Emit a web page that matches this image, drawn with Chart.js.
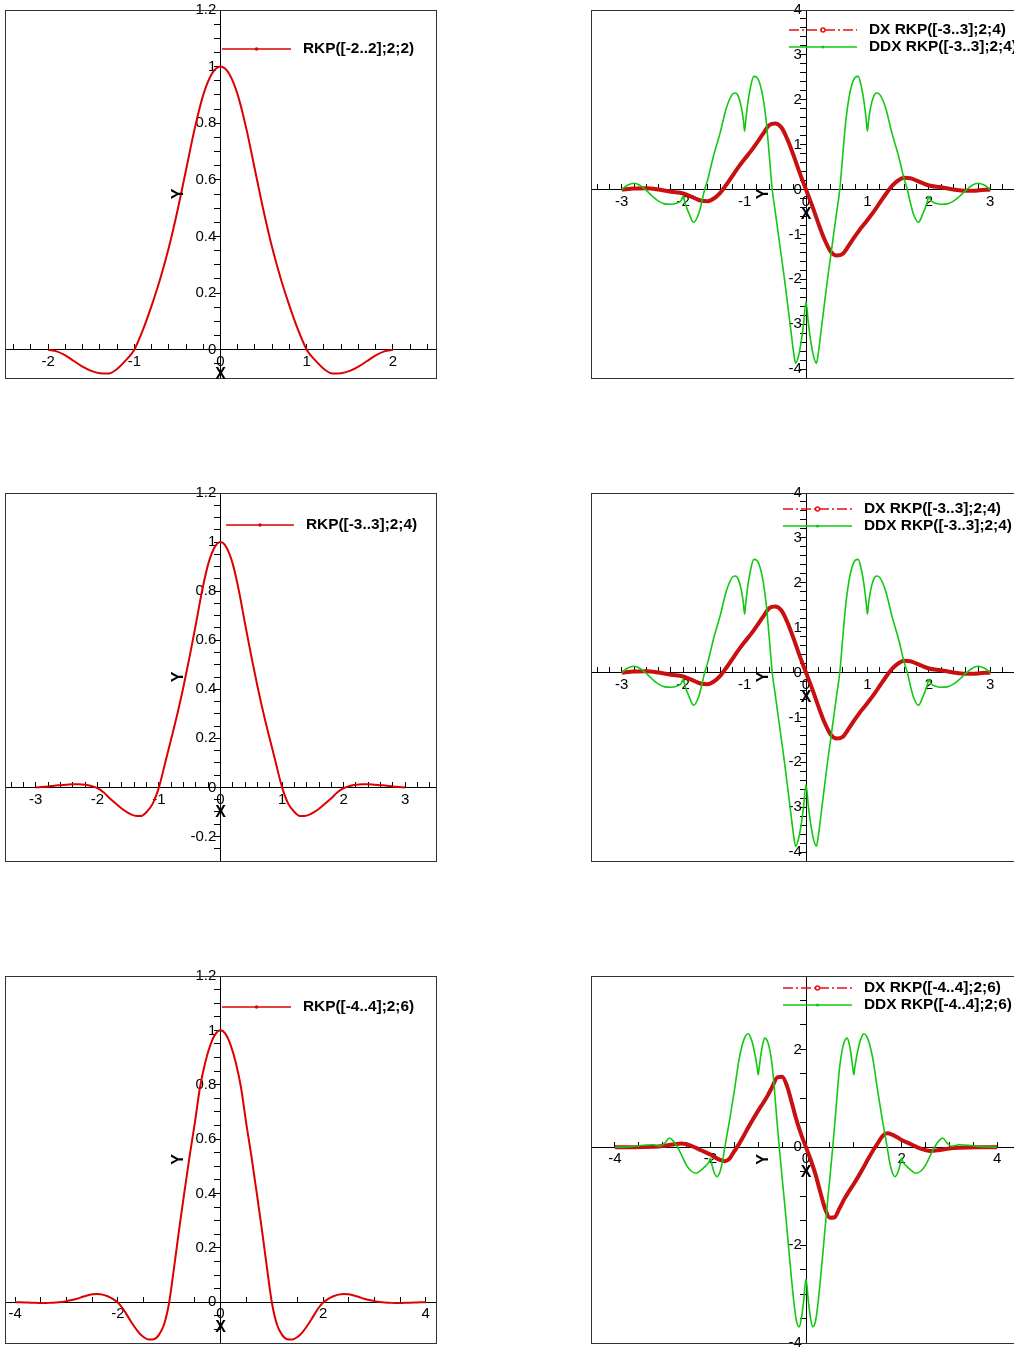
<!DOCTYPE html>
<html>
<head>
<meta charset="utf-8">
<title>RKP kernels</title>
<script src="https://cdn.jsdelivr.net/npm/chart.js@4.4.1/dist/chart.umd.min.js"></script>
<style>
  html, body { margin: 0; padding: 0; background: #fff; width: 1014px; height: 1349px; overflow: hidden; position: relative; }
  canvas { position: absolute; }
</style>
</head>
<body>
<canvas id="c1"></canvas>
<canvas id="c2"></canvas>
<canvas id="c3"></canvas>
<canvas id="c4"></canvas>
<canvas id="c5"></canvas>
<canvas id="c6"></canvas>
<script>
// ---- kernel RKP([-2..2];2;2)
const RKP2_X = [-2,-1.9,-1.8,-1.7,-1.6,-1.5,-1.4,-1.3,-1.2,-1.1,-1,-0.9,-0.8,-0.7,-0.6,-0.5,-0.4,-0.3,-0.2,-0.1,
  0,0.1,0.2,0.3,0.4,0.5,0.6,0.7,0.8,0.9,1,1.1,1.2,1.3,1.4,1.5,1.6,1.7,1.8,1.9,2];
const RKP2_Y = [0,-0.006,-0.02,-0.04,-0.06,-0.075,-0.083,-0.084,-0.068,-0.038,0,0.07,0.155,0.25,0.36,0.49,0.635,0.78,0.9,0.975,
  1,0.975,0.9,0.78,0.635,0.49,0.36,0.25,0.155,0.07,0,-0.038,-0.068,-0.084,-0.083,-0.075,-0.06,-0.04,-0.02,-0.006,0];

// ---- kernel RKP([-3..3];2;4)
const RKP4_X = [-3,-2.9,-2.8,-2.7,-2.6,-2.5,-2.4,-2.3,-2.2,-2.1,-2,-1.9,-1.8,-1.7,-1.6,-1.5,-1.4,-1.3,-1.2,-1.1,
  -1,-0.9,-0.8,-0.7,-0.6,-0.5,-0.4,-0.3,-0.2,-0.1,0,0.1,0.2,0.3,0.4,0.5,0.6,0.7,0.8,0.9,
  1,1.1,1.2,1.3,1.4,1.5,1.6,1.7,1.8,1.9,2,2.1,2.2,2.3,2.4,2.5,2.6,2.7,2.8,2.9,3];
const RKP4_Y = [0,0.002,0.004,0.007,0.009,0.011,0.013,0.013,0.011,0.006,-0.003,-0.02,-0.044,-0.066,-0.087,-0.104,-0.115,-0.117,-0.1,-0.066,
  0,0.098,0.198,0.3,0.412,0.535,0.665,0.8,0.91,0.977,1,0.977,0.91,0.8,0.665,0.535,0.412,0.3,0.198,0.098,
  0,-0.066,-0.1,-0.117,-0.115,-0.104,-0.087,-0.066,-0.044,-0.02,-0.003,0.006,0.011,0.013,0.013,0.011,0.009,0.007,0.004,0.002,0];

// ---- kernel RKP([-4..4];2;6)
const RKP6_X = [-4,-3.9,-3.8,-3.7,-3.6,-3.5,-3.4,-3.3,-3.2,-3.1,-3,-2.9,-2.8,-2.7,-2.6,-2.5,-2.4,-2.3,-2.2,-2.1,
  -2,-1.9,-1.8,-1.7,-1.6,-1.5,-1.4,-1.3,-1.2,-1.1,-1,-0.9,-0.8,-0.7,-0.6,-0.5,-0.4,-0.3,-0.2,-0.1,
  0,0.1,0.2,0.3,0.4,0.5,0.6,0.7,0.8,0.9,1,1.1,1.2,1.3,1.4,1.5,1.6,1.7,1.8,1.9,
  2,2.1,2.2,2.3,2.4,2.5,2.6,2.7,2.8,2.9,3,3.1,3.2,3.3,3.4,3.5,3.6,3.7,3.8,3.9,4];
const RKP6_Y = [0,0,-0.001,-0.002,-0.002,-0.003,-0.003,-0.002,-0.001,0.001,0.004,0.008,0.013,0.019,0.025,0.029,0.03,0.028,0.022,0.012,
  -0.001,-0.024,-0.054,-0.084,-0.11,-0.128,-0.137,-0.136,-0.12,-0.082,0,0.135,0.276,0.41,0.54,0.66,0.79,0.88,0.945,0.986,
  1,0.986,0.945,0.88,0.79,0.66,0.54,0.41,0.276,0.135,0,-0.082,-0.12,-0.136,-0.137,-0.128,-0.11,-0.084,-0.054,-0.024,
  -0.001,0.012,0.022,0.028,0.03,0.029,0.025,0.019,0.013,0.008,0.004,0.001,-0.001,-0.002,-0.003,-0.003,-0.002,-0.002,-0.001,0,0];

// ---- first and second derivative of RKP([-3..3];2;4)
const DX3_X = [-3,-2.8,-2.6,-2.4,-2.2,-2,-1.9,-1.8,-1.7,-1.6,-1.5,-1.4,-1.3,-1.2,-1.1,-1,-0.9,-0.8,-0.7,-0.6,-0.5,-0.4,-0.3,-0.2,-0.1,
  0,0.1,0.2,0.3,0.4,0.5,0.6,0.7,0.8,0.9,1,1.1,1.2,1.3,1.4,1.5,1.6,1.7,1.8,1.9,2,2.2,2.4,2.6,2.8,3];
const DX3_Y = [0,0.02,0.03,0,-0.05,-0.09,-0.14,-0.2,-0.25,-0.26,-0.2,-0.08,0.1,0.3,0.5,0.68,0.85,1.04,1.24,1.43,1.47,1.38,1.11,0.75,0.36,
  0,-0.36,-0.75,-1.11,-1.38,-1.47,-1.43,-1.24,-1.04,-0.85,-0.68,-0.5,-0.3,-0.1,0.08,0.2,0.26,0.25,0.2,0.14,0.09,0.05,0,-0.03,-0.02,0];
const DDX3_X = [-3,-2.9,-2.8,-2.7,-2.6,-2.5,-2.4,-2.3,-2.2,-2.1,-2.03,-2,-1.97,-1.9,-1.83,-1.75,-1.7,-1.65,-1.6,-1.5,
  -1.4,-1.3,-1.2,-1.15,-1.1,-1.05,-1.02,-1,-0.98,-0.95,-0.9,-0.85,-0.8,-0.75,-0.7,-0.65,-0.6,-0.55,-0.5,-0.45,
  -0.4,-0.35,-0.3,-0.25,-0.2,-0.17,-0.12,-0.08,-0.04,0,
  0.04,0.08,0.12,0.17,0.2,0.25,0.3,0.35,0.4,0.45,0.5,0.55,0.6,0.65,0.7,0.75,0.8,0.85,0.9,0.95,
  0.98,1,1.02,1.05,1.1,1.15,1.2,1.3,1.4,1.5,1.6,1.65,1.7,1.75,1.83,1.9,1.97,2,2.03,2.1,
  2.2,2.3,2.4,2.5,2.6,2.7,2.8,2.9,3];
const DDX3_Y = [0,0.1,0.14,0.09,-0.02,-0.15,-0.26,-0.32,-0.33,-0.3,-0.24,-0.15,-0.3,-0.55,-0.73,-0.55,-0.3,0,0.22,0.78,
  1.25,1.8,2.12,2.15,2.07,1.82,1.55,1.3,1.55,1.9,2.3,2.52,2.5,2.35,2.05,1.55,0.8,0,-0.5,-1,
  -1.5,-2,-2.55,-3.1,-3.65,-3.87,-3.7,-3.4,-3,-2.5,
  -3,-3.4,-3.7,-3.87,-3.65,-3.1,-2.55,-2,-1.5,-1,-0.5,0,0.8,1.55,2.05,2.35,2.5,2.52,2.3,1.9,
  1.55,1.3,1.55,1.82,2.07,2.15,2.12,1.8,1.25,0.78,0.22,0,-0.3,-0.55,-0.73,-0.55,-0.3,-0.15,-0.24,-0.3,
  -0.33,-0.32,-0.26,-0.15,-0.02,0.09,0.14,0.1,0];

// ---- first and second derivative of RKP([-4..4];2;6)
const DX6_X = [-4,-3.6,-3.2,-3,-2.8,-2.6,-2.4,-2.2,-2,-1.9,-1.8,-1.7,-1.6,-1.5,-1.4,-1.3,-1.2,-1.1,-1,-0.9,-0.8,-0.7,-0.6,-0.5,-0.4,-0.3,-0.2,-0.1,
  0,0.1,0.2,0.3,0.4,0.5,0.6,0.7,0.8,0.9,1,1.1,1.2,1.3,1.4,1.5,1.6,1.7,1.8,1.9,2,2.2,2.4,2.6,2.8,3,3.2,3.6,4];
const DX6_Y = [0,0,0.01,0.025,0.055,0.075,0.03,-0.06,-0.15,-0.21,-0.26,-0.285,-0.23,-0.08,0.07,0.24,0.42,0.59,0.75,0.9,1.06,1.25,1.43,1.44,1.26,0.92,0.56,0.26,
  0,-0.26,-0.56,-0.92,-1.26,-1.44,-1.43,-1.25,-1.06,-0.9,-0.75,-0.59,-0.42,-0.24,-0.07,0.08,0.23,0.285,0.26,0.21,0.15,0.06,-0.03,-0.075,-0.055,-0.025,-0.01,0,0];
const DDX6_X = [-4,-3.7,-3.4,-3.2,-3.05,-2.95,-2.86,-2.8,-2.7,-2.6,-2.5,-2.4,-2.3,-2.2,-2.1,-2.03,-2,-1.97,-1.92,-1.86,
  -1.8,-1.75,-1.7,-1.6,-1.5,-1.4,-1.3,-1.21,-1.15,-1.1,-1.05,-1.02,-1,-0.98,-0.95,-0.9,-0.86,-0.8,-0.75,-0.7,
  -0.65,-0.6,-0.55,-0.5,-0.45,-0.4,-0.35,-0.3,-0.25,-0.2,-0.14,-0.1,-0.05,0,
  0.05,0.1,0.14,0.2,0.25,0.3,0.35,0.4,0.45,0.5,0.55,0.6,0.65,0.7,0.75,0.8,0.86,0.9,0.95,0.98,
  1,1.02,1.05,1.1,1.15,1.21,1.3,1.4,1.5,1.6,1.7,1.75,1.8,1.86,1.92,1.97,2,2.03,2.1,2.2,
  2.3,2.4,2.5,2.6,2.7,2.8,2.86,2.95,3.05,3.2,3.4,3.7,4];
const DDX6_Y = [0,0.01,0.04,0.05,0.02,0.09,0.19,0.15,0.02,-0.17,-0.37,-0.49,-0.53,-0.47,-0.38,-0.3,-0.22,-0.35,-0.52,-0.6,
  -0.5,-0.3,0,0.55,1.15,1.8,2.2,2.32,2.22,2.05,1.8,1.62,1.48,1.62,1.85,2.13,2.23,2.15,1.95,1.6,
  1.05,0.45,-0.1,-0.62,-1.12,-1.65,-2.2,-2.72,-3.2,-3.55,-3.67,-3.52,-3.15,-2.7,
  -3.15,-3.52,-3.67,-3.55,-3.2,-2.72,-2.2,-1.65,-1.12,-0.62,-0.1,0.45,1.05,1.6,1.95,2.15,2.23,2.13,1.85,1.62,
  1.48,1.62,1.8,2.05,2.22,2.32,2.2,1.8,1.15,0.55,0,-0.3,-0.5,-0.6,-0.52,-0.35,-0.22,-0.3,-0.38,-0.47,
  -0.53,-0.49,-0.37,-0.17,0.02,0.15,0.19,0.09,0.02,0.05,0.04,0.01,0];

Chart.defaults.font.family = '"Liberation Sans", Arial, Helvetica, sans-serif';
Chart.defaults.font.size = 15;
Chart.defaults.color = '#000';

const PAD = 20;
const RED = '#dd0000';
const DARK_RED = '#c81010';
const GREEN = '#12c812';
const LABEL_FONT = 'bold 15.4px "Liberation Sans", Arial, sans-serif';
const TITLE_FONT = 'bold 16px "Liberation Sans", Arial, sans-serif';

function points(xs, ys) {
  return xs.map((x, i) => ({ x, y: ys[i] }));
}

function isMultiple(v, step) {
  const q = v / step;
  return Math.abs(q - Math.round(q)) < 1e-6;
}

function stepTicks(min, max, step) {
  const out = [];
  for (let k = Math.ceil(min / step - 1e-9); k * step <= max + 1e-9; k++) {
    out.push({ value: Math.round(k * step * 1e6) / 1e6 });
  }
  return out;
}

function axis(horiz, min, max, step, labelStep) {
  return {
    type: 'linear',
    min, max,
    position: horiz ? { y: 0 } : { x: 0 },
    afterBuildTicks: (s) => { s.ticks = stepTicks(min, max, step); },
    afterFit: (s) => { if (horiz) s.height = 0; else s.width = 0; },
    grid: { drawOnChartArea: false, drawTicks: true, tickLength: horiz ? -6 : 6, tickColor: '#000', tickWidth: 1 },
    border: { display: true, color: '#000', width: 1 },
    ticks: {
      autoSkip: false, maxRotation: 0, minRotation: 0,
      padding: horiz ? 9 : 0,
      color: '#000',
      font: { size: 15 },
      // y labels sit right-aligned on the axis line, keep a small gap
      callback: (v) => isMultiple(v, labelStep) ? String(Math.round(v * 1000) / 1000) + (horiz ? '' : '\u00a0') : ''
    }
  };
}

// frame around the plot area, the axis titles and the in-plot legend
const panelDecor = {
  id: 'panelDecor',
  afterDraw(chart, args, opts) {
    const { ctx, chartArea: a, scales } = chart;
    ctx.save();
    ctx.strokeStyle = '#333';
    ctx.lineWidth = 1;
    ctx.strokeRect(Math.round(a.left) + 0.5, Math.round(a.top) + 0.5, Math.round(a.width), Math.round(a.height));

    ctx.fillStyle = '#000';
    ctx.font = TITLE_FONT;
    ctx.textAlign = 'center';
    ctx.textBaseline = 'middle';
    ctx.fillText('X', (a.left + a.right) / 2, scales.y.getPixelForValue(0) + 25);
    ctx.save();
    ctx.translate(scales.x.getPixelForValue(0) - 42, (a.top + a.bottom) / 2);
    ctx.rotate(-Math.PI / 2);
    ctx.fillText('Y', 0, 0);
    ctx.restore();

    chart.data.datasets.forEach((ds, i) => {
      const ly = a.top + opts.y + i * (opts.dy || 0);
      const x1 = a.left + opts.x1, x2 = a.left + opts.x2;
      ctx.strokeStyle = ds.legendColor || ds.borderColor;
      ctx.lineWidth = 1.5;
      ctx.setLineDash(ds.legendDash || []);
      ctx.beginPath();
      ctx.moveTo(x1, ly);
      ctx.lineTo(x2, ly);
      ctx.stroke();
      ctx.setLineDash([]);
      ctx.beginPath();
      ctx.arc((x1 + x2) / 2, ly, ds.legendMarker || 1, 0, Math.PI * 2);
      ctx.stroke();
      ctx.fillStyle = '#000';
      ctx.font = LABEL_FONT;
      ctx.textAlign = 'left';
      ctx.fillText(ds.label, a.left + opts.tx, ly);
    });
    ctx.restore();
  }
};

function kernelSet(label, xs, ys) {
  return [{
    label, data: points(xs, ys),
    borderColor: RED, borderWidth: 2, pointRadius: 0,
    cubicInterpolationMode: 'monotone', legendMarker: 1
  }];
}

function derivSet(dxLabel, dxX, dxY, ddxLabel, ddxX, ddxY) {
  return [{
    label: dxLabel, data: points(dxX, dxY), order: 2,
    borderColor: DARK_RED, borderWidth: 4, pointRadius: 0,
    cubicInterpolationMode: 'monotone',
    legendColor: '#e81010', legendDash: [10, 3, 2, 3], legendMarker: 2
  }, {
    label: ddxLabel, data: points(ddxX, ddxY), order: 1,
    borderColor: GREEN, borderWidth: 1.6, pointRadius: 0,
    cubicInterpolationMode: 'monotone', legendMarker: 0.8
  }];
}

function makePanel(id, rect, datasets, xr, yr, legend) {
  const cv = document.getElementById(id);
  cv.width = rect.w + 2 * PAD;
  cv.height = rect.h + 2 * PAD;
  cv.style.left = (rect.l - PAD) + 'px';
  cv.style.top = (rect.t - PAD) + 'px';
  return new Chart(cv, {
    type: 'line',
    data: { datasets },
    options: {
      responsive: false,
      animation: false,
      events: [],
      layout: { padding: PAD },
      plugins: { legend: { display: false }, tooltip: { enabled: false }, panelDecor: legend },
      scales: {
        x: axis(true, xr[0], xr[1], xr[2], xr[3]),
        y: axis(false, yr[0], yr[1], yr[2], yr[3])
      }
    },
    plugins: [panelDecor]
  });
}

makePanel('c1', { l: 5, t: 10, w: 431, h: 368 },
  kernelSet('RKP([-2..2];2;2)', RKP2_X, RKP2_Y),
  [-2.5, 2.5, 0.2, 1], [-0.1, 1.2, 0.05, 0.2],
  { x1: 217, x2: 286, tx: 298, y: 39 });

makePanel('c2', { l: 591, t: 10, w: 430, h: 368 },
  derivSet('DX RKP([-3..3];2;4)', DX3_X, DX3_Y, 'DDX RKP([-3..3];2;4)', DDX3_X, DDX3_Y),
  [-3.5, 3.5, 0.2, 1], [-4.2, 4, 0.2, 1],
  { x1: 198, x2: 266, tx: 278, y: 20, dy: 17 });

makePanel('c3', { l: 5, t: 493, w: 431, h: 368 },
  kernelSet('RKP([-3..3];2;4)', RKP4_X, RKP4_Y),
  [-3.5, 3.5, 0.2, 1], [-0.3, 1.2, 0.05, 0.2],
  { x1: 221, x2: 289, tx: 301, y: 32 });

makePanel('c4', { l: 591, t: 493, w: 430, h: 368 },
  derivSet('DX RKP([-3..3];2;4)', DX3_X, DX3_Y, 'DDX RKP([-3..3];2;4)', DDX3_X, DDX3_Y),
  [-3.5, 3.5, 0.2, 1], [-4.2, 4, 0.2, 1],
  { x1: 192, x2: 261, tx: 273, y: 16, dy: 17 });

makePanel('c5', { l: 5, t: 976, w: 431, h: 367 },
  kernelSet('RKP([-4..4];2;6)', RKP6_X, RKP6_Y),
  [-4.2, 4.2, 0.5, 2], [-0.15, 1.2, 0.05, 0.2],
  { x1: 217, x2: 286, tx: 298, y: 31 });

makePanel('c6', { l: 591, t: 976, w: 430, h: 367 },
  derivSet('DX RKP([-4..4];2;6)', DX6_X, DX6_Y, 'DDX RKP([-4..4];2;6)', DDX6_X, DDX6_Y),
  [-4.5, 4.5, 0.5, 2], [-4, 3.5, 0.5, 2],
  { x1: 192, x2: 261, tx: 273, y: 12, dy: 17 });
</script>
</body>
</html>
